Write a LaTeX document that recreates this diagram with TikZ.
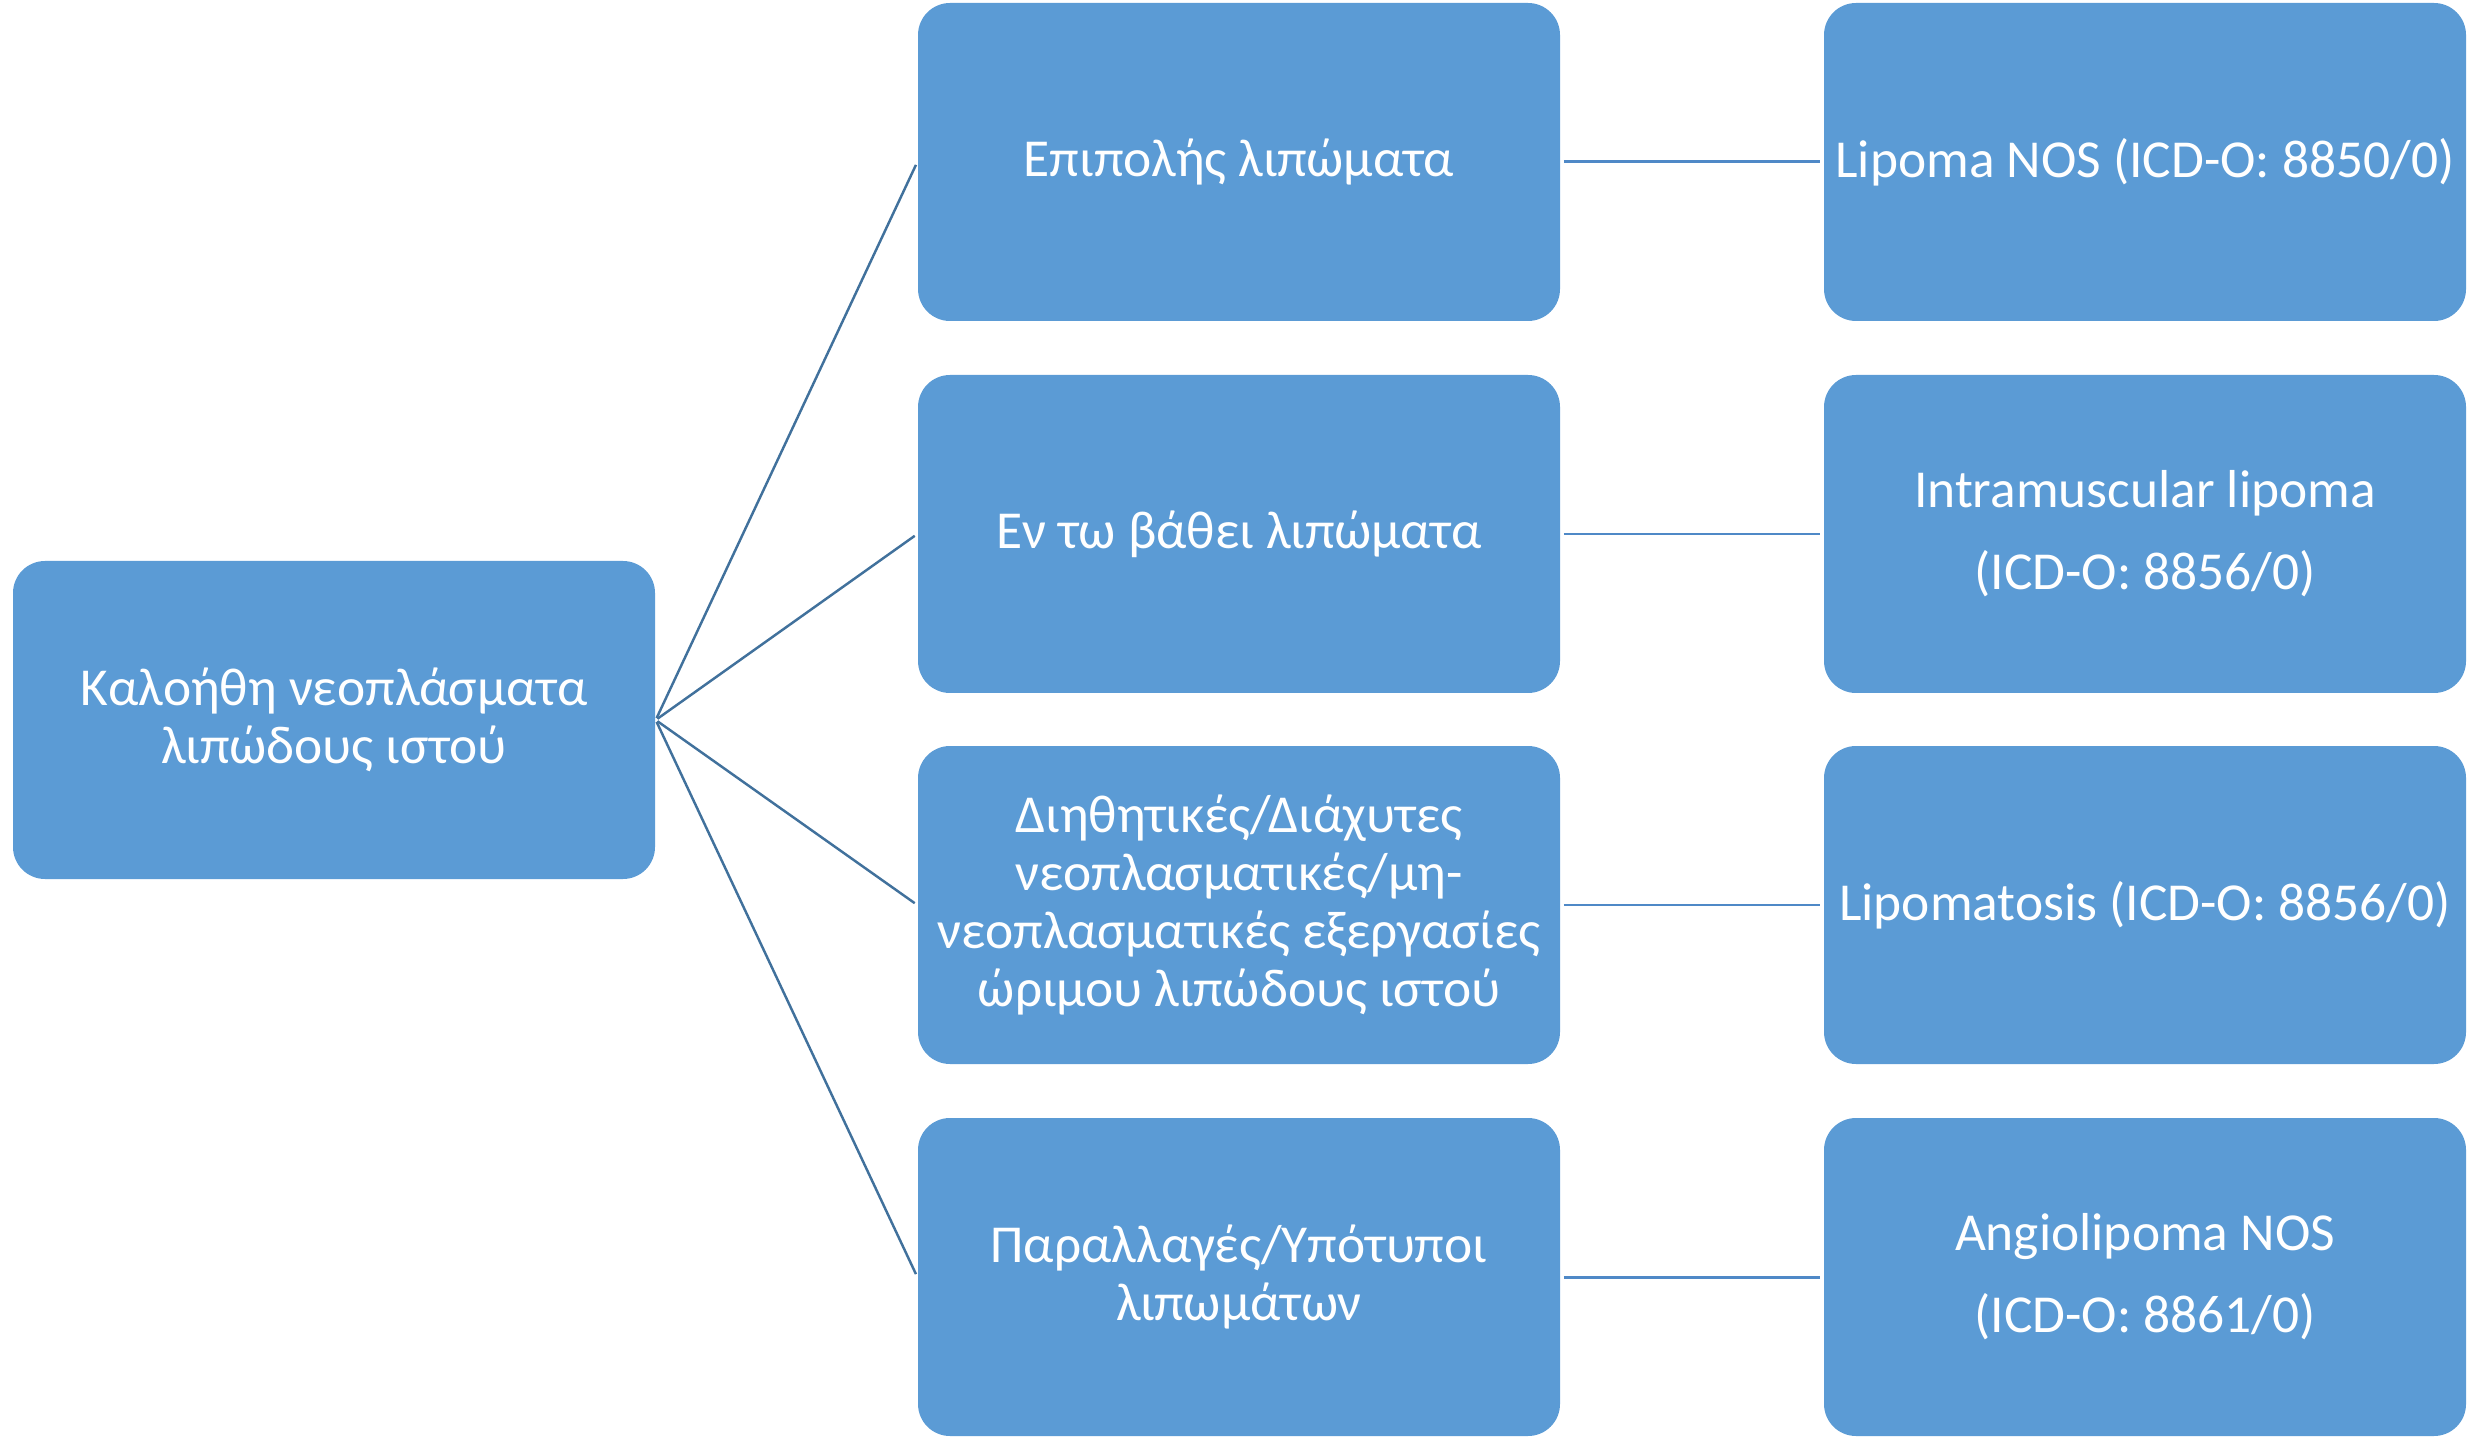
\documentclass[tikz,border=0pt]{standalone}
\usepackage{fontspec}
\setmainfont{Carlito}
\definecolor{boxblue}{HTML}{5B9BD5}
\definecolor{linkblue}{HTML}{41719C}
\definecolor{rowblue}{HTML}{4F89C7}

\begin{document}
\begin{tikzpicture}[x=0.1mm,y=-0.1mm,
  box/.style={rectangle, rounded corners=3.2mm, fill=boxblue, text=white,
    minimum width=64.2mm, minimum height=31.8mm, inner sep=0pt, align=center,
    font=\fontsize{15.2}{16.5}\selectfont},
  link/.style={draw=linkblue, line width=0.7pt, shorten <=0.6pt, shorten >=0.9pt},
  rowlink/.style={draw=rowblue, line width=0.85pt, shorten <=0.9pt, shorten >=0.9pt}]
\useasboundingbox (0,0) rectangle (2469,1440);
% root
\node[box] (root) at (334,720) {Καλοήθη νεοπλάσματα\\λιπώδους ιστού};
% the groups
\node[box] (g1) at (1239,162) {Επιπολής λιπώματα};
\node[box] (g2) at (1239,534) {Εν τω βάθει λιπώματα};
\node[box] (g3) at (1239,905) {Διηθητικές/Διάχυτες\\νεοπλασματικές/μη-\\νεοπλασματικές εξεργασίες\\ώριμου λιπώδους ιστού};
\node[box] (g4) at (1239,1277) {Παραλλαγές/Υπότυποι\\λιπωμάτων};
% the examples
\node[box] (e1) at (2145,162) {Lipoma NOS (ICD-O: 8850/0)};
\node[box] (e2) at (2145,534) {Intramuscular lipoma\\[6.8pt](ICD-O: 8856/0)};
\node[box] (e3) at (2145,905) {Lipomatosis (ICD-O: 8856/0)};
\node[box] (e4) at (2145,1277) {Angiolipoma NOS\\[6.8pt](ICD-O: 8861/0)};
% links
\foreach \i in {1,...,4}{
  \draw[link] (root.east) -- (g\i.west);
  \draw[rowlink] (g\i.east) -- (e\i.west);
}
\end{tikzpicture}
\end{document}
